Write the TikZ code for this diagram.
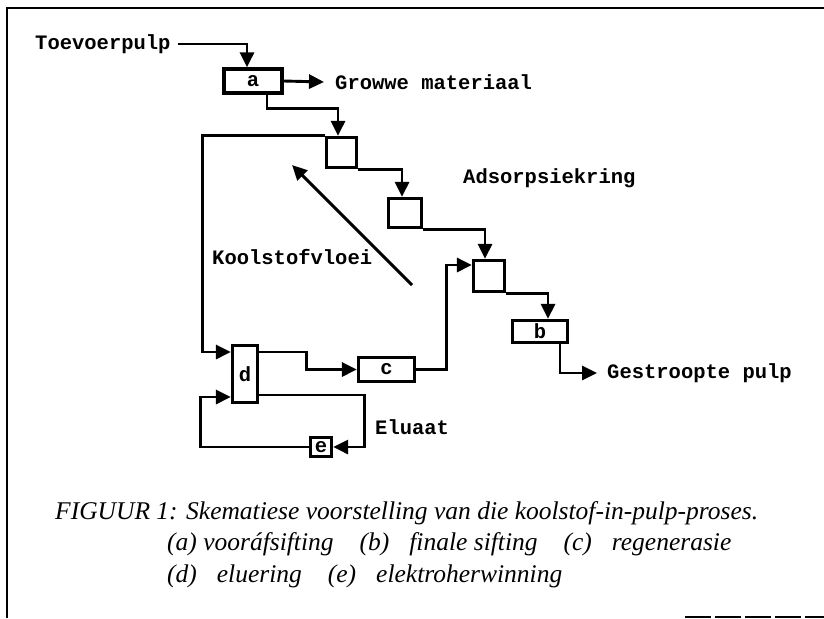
\documentclass[tikz,border=0pt]{standalone}
\usepackage{fontspec}
\setmainfont{Liberation Serif}
\newfontfamily\monof{Liberation Mono}
\usetikzlibrary{arrows.meta}
\begin{document}
\begin{tikzpicture}[x=1pt,y=-1pt,
  lbl/.style={font=\monof\bfseries\fontsize{20.5}{24}\selectfont, inner sep=0pt, anchor=west},
  box/.style={draw, line width=3.2pt, inner sep=0pt, font=\monof\bfseries\fontsize{20.5}{24}\selectfont},
  arr/.style={line width=2.9pt, -{Triangle[length=15pt,width=14pt]}},
  captext/.style={font=\itshape\fontsize{25.5}{30}\selectfont, anchor=base west, inner sep=0pt}]
\useasboundingbox (0,0) rectangle (824,618);
% frame
\draw[line width=2.8pt] (7,618) -- (7,8) -- (824,8);
\draw[line width=1.6pt, dash pattern=on 26pt off 4pt] (685,617) -- (824,617);
% boxes
\node[box, minimum width=58, minimum height=24] (a) at (253,81) {a};
\node[box, minimum width=30, minimum height=30] (t1) at (341.5,152.5) {};
\node[box, minimum width=33, minimum height=29] (t2) at (405,213) {};
\node[box, minimum width=31, minimum height=31] (t3) at (489,276) {};
\node[box, minimum width=55, minimum height=22] (b) at (540,331.5) {b};
\node[box, minimum width=56, minimum height=24] (c) at (386.5,369.5) {c};
\node[box, minimum width=25, minimum height=57] (d) at (245,374) {d};
\node[box, minimum width=21, minimum height=19] (e) at (321,447) {e};
% labels
\node[lbl] (toev) at (35,44) {Toevoerpulp};
\node[lbl] (grow) at (335,82) {Growwe materiaal};
\node[lbl] (ads) at (463,178) {Adsorpsiekring};
\node[lbl] (kool) at (212,257) {Koolstofvloei};
\node[lbl] (elu) at (375,427) {Eluaat};
\node[lbl] (gest) at (607,373) {Gestroopte pulp};
% connectors
\draw[arr] ([xshift=7]toev.east) -| ([xshift=-6]a.north);
\draw[arr] (a.east) -- ([xshift=-11]grow.west);
\draw[arr] ([xshift=14]a.south) -- ++(0,14) -| ([xshift=-3.5]t1.north);
\draw[arr] (t1.north west) -- ++(-122,0) |- ([yshift=22]d.west);
\draw[arr] (t1.south east) -| ([xshift=-3]t2.north);
\draw[arr] (t2.south east) -| ([xshift=-4]t3.north);
\draw[arr] (t3.south east) -| ([xshift=8]b.north);
\draw[arr] ([xshift=20]b.south) |- ([xshift=-10]gest.west);
\draw[arr] ([yshift=22]d.east) -- ++(47,0) |- (c.west);
\draw[arr] (c.east) -- ++(30,0) |- ([yshift=11]t3.west);
\draw[arr] ([yshift=-21]d.east) -- ++(105,0) |- (e.east);
\draw[arr] (e.west) -- ++(-108,0) |- ([yshift=-23]d.west);
\coordinate (k1) at (412,285);
\coordinate (k2) at (292,165);
\draw[arr] (k1) -- (k2);
% caption
\node[captext] (cap1) at (55,519) {FIGUUR 1: Skematiese voorstelling van die koolstof-in-pulp-proses.};
\node[captext] (cap2) at (167,550) {(a) vooráfsifting\hspace{26pt}(b)\hspace{20pt}finale sifting\hspace{26pt}(c)\hspace{20pt}regenerasie};
\node[captext] (cap3) at (167,582) {(d)\hspace{20pt}eluering\hspace{26pt}(e)\hspace{20pt}elektroherwinning};
\end{tikzpicture}
\end{document}
